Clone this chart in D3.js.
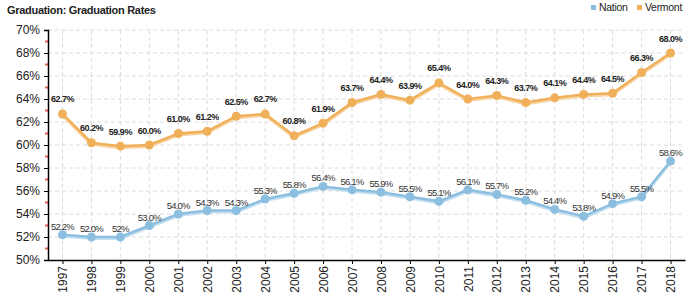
<html>
<head>
	<script src="https://d3js.org/d3.v7.min.js"></script>
	<style>
		body { margin: 0; background: #fff; font-family: "Liberation Sans", Arial, sans-serif; }
	</style>
</head>
<body>
	<div id="chart"></div>
	<script type="text/javascript">

		var years = ["1997","1998","1999","2000","2001","2002","2003","2004","2005","2006","2007",
			"2008","2009","2010","2011","2012","2013","2014","2015","2016","2017","2018"];
		var nation = [52.2, 52.0, 52.0, 53.0, 54.0, 54.3, 54.3, 55.3, 55.8, 56.4, 56.1,
			55.9, 55.5, 55.1, 56.1, 55.7, 55.2, 54.4, 53.8, 54.9, 55.5, 58.6];
		var nationLabels = ["52.2%","52.0%","52%","53.0%","54.0%","54.3%","54.3%","55.3%","55.8%","56.4%","56.1%",
			"55.9%","55.5%","55.1%","56.1%","55.7%","55.2%","54.4%","53.8%","54.9%","55.5%","58.6%"];
		var vermont = [62.7, 60.2, 59.9, 60.0, 61.0, 61.2, 62.5, 62.7, 60.8, 61.9, 63.7,
			64.4, 63.9, 65.4, 64.0, 64.3, 63.7, 64.1, 64.4, 64.5, 66.3, 68.0];
		var yTicks = [50, 52, 54, 56, 58, 60, 62, 64, 66, 68, 70];
		var yMinor = [51, 53, 55, 57, 59, 61, 63, 65, 67, 69];
		var seriesNames = ["Nation", "Vermont"];

		var W = 700, H = 300;
		var mLeft = 48, mRight = 685, mTop = 30, mBottom = 260;

		var svg = d3.select('#chart').append('svg')
			.attr('width', W).attr('height', H);

		var x = d3.scalePoint().domain(years).range([mLeft, mRight]).padding(0.5);
		var y = d3.scaleLinear().domain([50, 70]).range([mBottom, mTop]);

		// grid
		svg.append('g').selectAll('line').data(yTicks.slice(1)).enter().append('line')
			.attr('x1', mLeft).attr('x2', mRight)
			.attr('y1', d => y(d)).attr('y2', d => y(d))
			.attr('stroke', '#dcdcdc').attr('stroke-dasharray', '4,3');
		svg.append('g').selectAll('line').data(years).enter().append('line')
			.attr('x1', d => x(d)).attr('x2', d => x(d))
			.attr('y1', mTop).attr('y2', mBottom)
			.attr('stroke', '#dcdcdc').attr('stroke-dasharray', '4,3');

		// minor red ticks
		svg.append('g').selectAll('line').data(yMinor).enter().append('line')
			.attr('x1', mLeft - 3).attr('x2', mLeft)
			.attr('y1', d => y(d)).attr('y2', d => y(d))
			.attr('stroke', '#e8605a').attr('stroke-width', 2);

		var yAxis = svg.append('g').attr('transform', 'translate(' + mLeft + ',0)')
			.call(d3.axisLeft(y).tickValues(yTicks).tickSize(4).tickFormat(d => d + '%'));
		yAxis.select('.domain').attr('stroke', '#000').attr('stroke-width', 1.5);
		yAxis.selectAll('text').attr('font-size', 12).attr('font-family', '"Liberation Sans", Arial')
			.attr('fill', '#222').attr('dx', -1);

		var xAxis = svg.append('g').attr('transform', 'translate(0,' + mBottom + ')')
			.call(d3.axisBottom(x).tickSize(4).tickSizeOuter(0));
		xAxis.select('.domain').attr('stroke', '#000').attr('stroke-width', 1.5);
		xAxis.selectAll('text').attr('font-size', 12).attr('font-family', '"Liberation Sans", Arial')
			.attr('fill', '#222')
			.attr('transform', 'rotate(-90)')
			.attr('text-anchor', 'end')
			.attr('x', -6).attr('y', 0).attr('dy', '0.35em');

		var line = d3.line().x((d, i) => x(years[i])).y(d => y(d));

		function drawSeries(vals, color, shade) {
			svg.append('path').datum(vals)
				.attr('d', line).attr('fill', 'none')
				.attr('stroke', shade).attr('stroke-width', 3)
				.attr('transform', 'translate(0,1.5)');
			svg.append('path').datum(vals)
				.attr('d', line).attr('fill', 'none')
				.attr('stroke', color).attr('stroke-width', 2.5);
			svg.append('g').selectAll('circle').data(vals).enter().append('circle')
				.attr('cx', (d, i) => x(years[i])).attr('cy', d => y(d))
				.attr('r', 4.5).attr('fill', color);
		}

		drawSeries(nation, '#8cbfdf', '#c4dff0');
		drawSeries(vermont, '#f0b05a', '#f7d4a4');

		svg.append('g').selectAll('text').data(nation).enter().append('text')
			.attr('x', (d, i) => x(years[i])).attr('y', d => y(d) - 5)
			.attr('text-anchor', 'middle').attr('font-size', 9.5)
			.attr('letter-spacing', -0.8)
			.attr('fill', '#333')
			.text((d, i) => nationLabels[i]);

		svg.append('g').selectAll('text').data(vermont).enter().append('text')
			.attr('x', (d, i) => x(years[i])).attr('y', d => y(d) - 11.5)
			.attr('text-anchor', 'middle').attr('font-size', 9).attr('font-weight', 'bold')
			.attr('letter-spacing', -0.5)
			.attr('fill', '#222')
			.text(d => d.toFixed(1) + '%');

		// title
		svg.append('text').attr('x', 7).attr('y', 14)
			.attr('font-size', 11).attr('font-weight', 'bold').attr('fill', '#222')
			.attr('letter-spacing', -0.3)
			.text('Graduation: Graduation Rates');

		// legend
		var legendX = [591, 637];
		var legendColors = ['#8cbfdf', '#f0b05a'];
		var lg = svg.append('g').selectAll('g').data(seriesNames).enter().append('g')
			.attr('transform', (d, i) => 'translate(' + legendX[i] + ',0)');
		lg.append('rect').attr('x', 0).attr('y', 5).attr('width', 5).attr('height', 5)
			.attr('fill', (d, i) => legendColors[i]);
		lg.append('text').attr('x', 8).attr('y', 11).attr('font-size', 10.5).attr('fill', '#222')
			.attr('letter-spacing', -0.3)
			.text(d => d);

	</script>
</body>
</html>
